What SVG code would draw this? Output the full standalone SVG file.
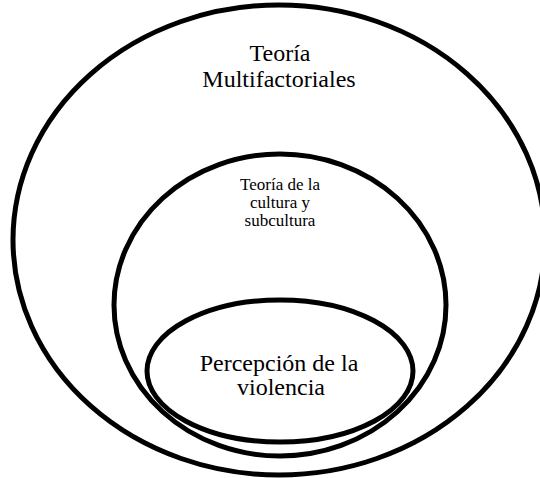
<svg xmlns="http://www.w3.org/2000/svg" width="540" height="478" viewBox="0 0 540 478">
  <style>
    .ring { fill: none; stroke: #000; stroke-width: 5; }
    text { font-family: 'Liberation Serif', 'DejaVu Serif', 'Times New Roman', serif; fill: #000; text-anchor: middle; }
  </style>
  <rect x="0" y="0" width="540" height="478" fill="#fff"/>
  <g id="teoria-multifactoriales">
    <ellipse class="ring" cx="279" cy="240" rx="266" ry="235"/>
    <text x="280" y="61" font-family="Liberation Serif, serif" font-size="24">Teoría</text>
    <text x="279" y="87" font-family="Liberation Serif, serif" font-size="24">Multifactoriales</text>
  </g>
  <g id="teoria-cultura-subcultura">
    <ellipse class="ring" cx="280" cy="305" rx="166" ry="151"/>
    <text x="280" y="190" font-family="Liberation Serif, serif" font-size="17">Teoría de la</text>
    <text x="280" y="208" font-family="Liberation Serif, serif" font-size="17">cultura y</text>
    <text x="280" y="226" font-family="Liberation Serif, serif" font-size="17">subcultura</text>
  </g>
  <g id="percepcion-violencia">
    <ellipse class="ring" cx="280" cy="371" rx="133" ry="71"/>
    <text x="279" y="371" font-family="Liberation Serif, serif" font-size="24">Percepción de la</text>
    <text x="281" y="395" font-family="Liberation Serif, serif" font-size="24">violencia</text>
  </g>
</svg>
